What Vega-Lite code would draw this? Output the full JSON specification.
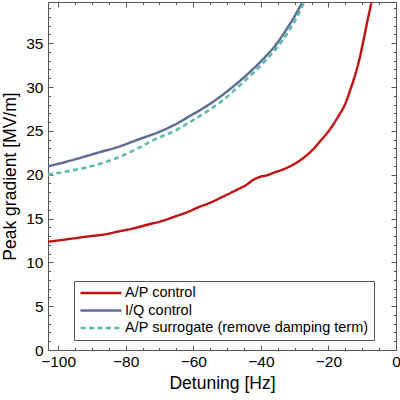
{
  "$schema": "https://vega.github.io/schema/vega-lite/v6.json",
  "width": 348,
  "height": 348,
  "autosize": "none",
  "padding": {"left": 48, "top": 2, "right": 4, "bottom": 50},
  "config": {
    "view": {"stroke": "#555", "strokeWidth": 1},
    "font": "Liberation Sans",
    "axis": {"domain": false, "grid": false, "ticks": true, "tickColor": "#555", "tickWidth": 1, "labelColor": "#000", "titleColor": "#000", "labelFont": "Liberation Sans", "titleFont": "Liberation Sans", "labelFontSize": 15.5, "titleFontSize": 17.5, "titleFontWeight": "normal", "labelOverlap": false, "labelFlush": false, "tickSize": 5}
  },
  "data": {"values": [
    {"s": "A/P control", "x": -103, "y": 12.35},
    {"s": "A/P control", "x": -100, "y": 12.5},
    {"s": "A/P control", "x": -95, "y": 12.75},
    {"s": "A/P control", "x": -91.3, "y": 12.95},
    {"s": "A/P control", "x": -86, "y": 13.2},
    {"s": "A/P control", "x": -82.4, "y": 13.5},
    {"s": "A/P control", "x": -78, "y": 13.85},
    {"s": "A/P control", "x": -73.5, "y": 14.3},
    {"s": "A/P control", "x": -69, "y": 14.75},
    {"s": "A/P control", "x": -65.6, "y": 15.2},
    {"s": "A/P control", "x": -61, "y": 15.85},
    {"s": "A/P control", "x": -58.7, "y": 16.25},
    {"s": "A/P control", "x": -55, "y": 16.8},
    {"s": "A/P control", "x": -51.2, "y": 17.5},
    {"s": "A/P control", "x": -47, "y": 18.3},
    {"s": "A/P control", "x": -44, "y": 18.9},
    {"s": "A/P control", "x": -42.3, "y": 19.4},
    {"s": "A/P control", "x": -40.3, "y": 19.75},
    {"s": "A/P control", "x": -38, "y": 19.95},
    {"s": "A/P control", "x": -36.4, "y": 20.2},
    {"s": "A/P control", "x": -33.4, "y": 20.6},
    {"s": "A/P control", "x": -31.4, "y": 20.95},
    {"s": "A/P control", "x": -28.5, "y": 21.6},
    {"s": "A/P control", "x": -26.5, "y": 22.2},
    {"s": "A/P control", "x": -24.5, "y": 22.9},
    {"s": "A/P control", "x": -22.5, "y": 23.8},
    {"s": "A/P control", "x": -20.5, "y": 24.7},
    {"s": "A/P control", "x": -19.6, "y": 25.15},
    {"s": "A/P control", "x": -17, "y": 26.7},
    {"s": "A/P control", "x": -15, "y": 28.1},
    {"s": "A/P control", "x": -13.6, "y": 29.6},
    {"s": "A/P control", "x": -12, "y": 31.5},
    {"s": "A/P control", "x": -10.7, "y": 33.4},
    {"s": "A/P control", "x": -9.7, "y": 35.2},
    {"s": "A/P control", "x": -8.7, "y": 37.1},
    {"s": "A/P control", "x": -7.2, "y": 39.8},
    {"s": "A/P control", "x": -6.5, "y": 41.2},
    {"s": "I/Q control", "x": -103, "y": 20.95},
    {"s": "I/Q control", "x": -95, "y": 21.75},
    {"s": "I/Q control", "x": -88.3, "y": 22.5},
    {"s": "I/Q control", "x": -82, "y": 23.2},
    {"s": "I/Q control", "x": -76.4, "y": 24.0},
    {"s": "I/Q control", "x": -70, "y": 24.9},
    {"s": "I/Q control", "x": -65, "y": 25.8},
    {"s": "I/Q control", "x": -61, "y": 26.7},
    {"s": "I/Q control", "x": -57, "y": 27.6},
    {"s": "I/Q control", "x": -53.1, "y": 28.6},
    {"s": "I/Q control", "x": -50, "y": 29.5},
    {"s": "I/Q control", "x": -46.2, "y": 30.7},
    {"s": "I/Q control", "x": -43, "y": 31.8},
    {"s": "I/Q control", "x": -39.3, "y": 33.2},
    {"s": "I/Q control", "x": -36, "y": 34.6},
    {"s": "I/Q control", "x": -33.4, "y": 36.0},
    {"s": "I/Q control", "x": -30.5, "y": 37.75},
    {"s": "I/Q control", "x": -27.5, "y": 39.8},
    {"s": "I/Q control", "x": -26.5, "y": 40.5},
    {"s": "A/P surrogate (remove damping term)", "x": -103, "y": 20.0},
    {"s": "A/P surrogate (remove damping term)", "x": -95, "y": 20.55},
    {"s": "A/P surrogate (remove damping term)", "x": -88.3, "y": 21.15},
    {"s": "A/P surrogate (remove damping term)", "x": -82, "y": 22.0},
    {"s": "A/P surrogate (remove damping term)", "x": -76.4, "y": 23.0},
    {"s": "A/P surrogate (remove damping term)", "x": -71.5, "y": 24.0},
    {"s": "A/P surrogate (remove damping term)", "x": -65, "y": 25.1},
    {"s": "A/P surrogate (remove damping term)", "x": -61, "y": 26.0},
    {"s": "A/P surrogate (remove damping term)", "x": -56, "y": 27.2},
    {"s": "A/P surrogate (remove damping term)", "x": -51.2, "y": 28.5},
    {"s": "A/P surrogate (remove damping term)", "x": -46.2, "y": 30.2},
    {"s": "A/P surrogate (remove damping term)", "x": -42, "y": 31.7},
    {"s": "A/P surrogate (remove damping term)", "x": -38.3, "y": 33.15},
    {"s": "A/P surrogate (remove damping term)", "x": -35, "y": 34.6},
    {"s": "A/P surrogate (remove damping term)", "x": -32.4, "y": 36.0},
    {"s": "A/P surrogate (remove damping term)", "x": -29.5, "y": 37.85},
    {"s": "A/P surrogate (remove damping term)", "x": -27.0, "y": 39.8},
    {"s": "A/P surrogate (remove damping term)", "x": -26, "y": 40.6}
  ]},
  "resolve": {"axis": {"x": "independent", "y": "independent"}},
  "layer": [
    {
      "mark": {"type": "line", "clip": true, "interpolate": "monotone"},
      "encoding": {
        "x": {"field": "x", "type": "quantitative",
          "scale": {"domain": [-103, 0], "nice": false, "zero": false},
          "axis": {"orient": "bottom", "values": [-100,-95,-90,-85,-80,-75,-70,-65,-60,-55,-50,-45,-40,-35,-30,-25,-20,-15,-10,-5,0],
            "labelExpr": "datum.value % 20 === 0 ? datum.label : ''",
            "labelPadding": -1, "title": "Detuning [Hz]", "titlePadding": 5,
            "encoding": {"ticks": {"y2": {"value": {"signal": "datum.value % 20 === 0 ? -5 : -2.5"}}}}}},
        "y": {"field": "y", "type": "quantitative",
          "scale": {"domain": [0, 39.7], "nice": false},
          "axis": {"orient": "left", "values": [0,1,2,3,4,5,6,7,8,9,10,11,12,13,14,15,16,17,18,19,20,21,22,23,24,25,26,27,28,29,30,31,32,33,34,35,36,37,38,39],
            "labelExpr": "datum.value % 5 === 0 ? datum.label : ''",
            "labelPadding": 0, "title": "Peak gradient [MV/m]", "titlePadding": 6,
            "encoding": {"ticks": {"x2": {"value": {"signal": "datum.value % 5 === 0 ? 5 : 2.5"}}}}}},
        "color": {"field": "s", "type": "nominal",
          "scale": {"domain": ["A/P control", "I/Q control", "A/P surrogate (remove damping term)"], "range": ["#c41010", "#5d6e96", "#5cbcab"]},
          "legend": {"title": null, "orient": "none", "legendX": 26, "legendY": 279, "direction": "vertical", "strokeColor": "#555", "fillColor": "#fff", "padding": 5, "symbolType": "stroke", "symbolSize": 1681, "symbolStrokeWidth": 2, "labelFontSize": 14.5, "labelFont": "Liberation Sans", "labelColor": "#000", "labelOffset": 2, "rowPadding": 2.5, "clipHeight": 14, "labelLimit": 400}},
        "strokeDash": {"field": "s", "type": "nominal",
          "scale": {"domain": ["A/P control", "I/Q control", "A/P surrogate (remove damping term)"], "range": [[1, 0], [1, 0], [5, 3.5]]},
          "legend": {"title": null, "orient": "none", "legendX": 26, "legendY": 279, "direction": "vertical", "strokeColor": "#555", "fillColor": "#fff", "padding": 5, "symbolType": "stroke", "symbolSize": 1681, "symbolStrokeWidth": 2, "labelFontSize": 14.5, "labelFont": "Liberation Sans", "labelColor": "#000", "labelOffset": 2, "rowPadding": 2.5, "clipHeight": 14, "labelLimit": 400}},
        "strokeWidth": {"field": "s", "type": "nominal",
          "scale": {"domain": ["A/P control", "I/Q control", "A/P surrogate (remove damping term)"], "range": [2.4, 2.6, 1.5]},
          "legend": null}
      }
    },
    {
      "mark": {"type": "line", "clip": true, "opacity": 0},
      "encoding": {
        "x": {"field": "x", "type": "quantitative",
          "axis": {"orient": "top", "values": [-100,-95,-90,-85,-80,-75,-70,-65,-60,-55,-50,-45,-40,-35,-30,-25,-20,-15,-10,-5,0],
            "labels": false, "title": null,
            "encoding": {"ticks": {"y2": {"value": {"signal": "datum.value % 20 === 0 ? 5 : 2.5"}}}}}},
        "y": {"field": "y", "type": "quantitative",
          "axis": {"orient": "right", "values": [0,1,2,3,4,5,6,7,8,9,10,11,12,13,14,15,16,17,18,19,20,21,22,23,24,25,26,27,28,29,30,31,32,33,34,35,36,37,38,39],
            "labels": false, "title": null,
            "encoding": {"ticks": {"x2": {"value": {"signal": "datum.value % 5 === 0 ? -5 : -2.5"}}}}}},
        "detail": {"field": "s"}
      }
    }
  ]
}
